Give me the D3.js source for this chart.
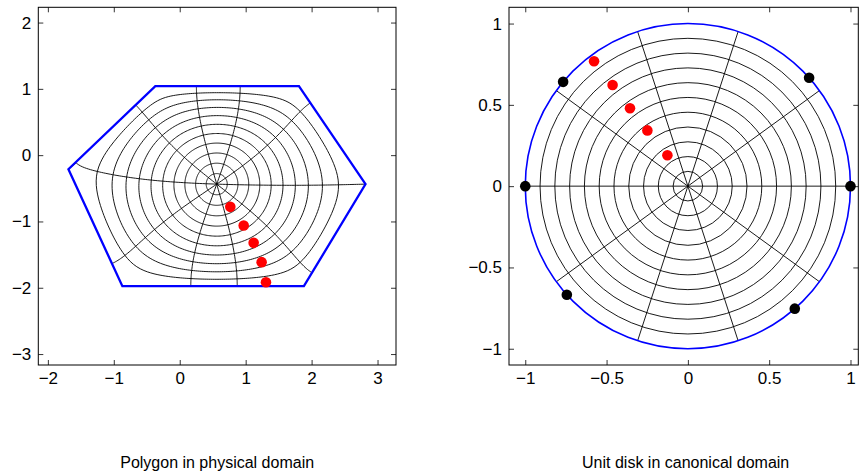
<!DOCTYPE html>
<html>
<head>
<meta charset="utf-8">
<script src="https://cdn.jsdelivr.net/npm/d3@7"></script>
<style>
  body { margin: 0; background: #fff; }
  text { font-family: Helvetica, Arial, "Liberation Sans", sans-serif; fill: #000; }
</style>
</head>
<body>
<div id="chart"></div>
<script>
// polygon (physical domain), vertices counter-clockwise
const polyX = [2.818, 1.808, -0.370, -1.688, -0.870, 1.883];
const polyY = [-0.437, 1.040, 1.040, -0.211, -1.976, -1.976];
// conformal center f(0)
const centerPt = [0.561, -0.437];
// prevertices on the unit circle (degrees), same order as the vertices
const prevertAngles = [0, 41.8, 140.1, 180, 221.9, 311.1];
// grid of the disk
const circleRadii = [1/11, 2/11, 3/11, 4/11, 5/11, 6/11, 7/11, 8/11, 9/11, 10/11];
const rayAngles = [0, 36, 72, 108, 144, 180, 216, 252, 288, 324];
// red points
const physX = [0.767, 0.970, 1.121, 1.242, 1.308];
const physY = [-0.780, -1.062, -1.323, -1.614, -1.916];
const diskX = [-0.577, -0.463, -0.356, -0.249, -0.126];
const diskY = [0.768, 0.622, 0.479, 0.343, 0.190];

const leftTicksX = [-2, -1, 0, 1, 2, 3];
const leftTicksY = [-3, -2, -1, 0, 1, 2];
const rightTicks = [-1, -0.5, 0, 0.5, 1];

const W = 859, H = 475;
const svg = d3.select("#chart").append("svg")
  .attr("width", W).attr("height", H)
  .attr("viewBox", [0, 0, W, H]);

const xL = d3.scaleLinear().domain([-2.145, 3.28]).range([38.3, 396]);
const yL = d3.scaleLinear().domain([-3.165, 2.23]).range([365, 7.3]);
const xR = d3.scaleLinear().domain([-1.1, 1.048]).range([509, 858.3]);
const yR = d3.scaleLinear().domain([-1.1, 1.1]).range([365, 7.3]);

// ---------- Schwarz-Christoffel disk map ----------
function gaussLegendre(n) {
  const x = [], w = [];
  for (let i = 1; i <= n; i++) {
    let z = Math.cos(Math.PI * (i - 0.25) / (n + 0.5)), pp = 1;
    for (let it = 0; it < 100; it++) {
      let p1 = 1, p2 = 0;
      for (let j = 1; j <= n; j++) { const p3 = p2; p2 = p1; p1 = ((2*j-1)*z*p2 - (j-1)*p3) / j; }
      pp = n * (z*p1 - p2) / (z*z - 1);
      const z1 = z; z = z1 - p1 / pp;
      if (Math.abs(z - z1) < 1e-15) break;
    }
    x.push((z + 1) / 2); w.push(1 / ((1 - z*z) * pp * pp));
  }
  return {x, w};
}
const gl8 = gaussLegendre(8), gl32 = gaussLegendre(32);

const cmul = (a, b) => [a[0]*b[0] - a[1]*b[1], a[0]*b[1] + a[1]*b[0]];

// turning angles -> exponents beta
const nV = polyX.length;
const betas = d3.range(nV).map(k => {
  const p = (k + nV - 1) % nV, q = (k + 1) % nV;
  const ax = polyX[k] - polyX[p], ay = polyY[k] - polyY[p];
  const bx = polyX[q] - polyX[k], by = polyY[q] - polyY[k];
  return -Math.atan2(ax*by - ay*bx, ax*bx + ay*by) / Math.PI;
});

function integrand(w, Z) {
  let lr = 0, li = 0;
  for (let k = 0; k < Z.length; k++) {
    const u = [1 - (w[0]*Z[k][0] + w[1]*Z[k][1]), -(w[1]*Z[k][0] - w[0]*Z[k][1])];
    lr += betas[k] * Math.log(Math.hypot(u[0], u[1]));
    li += betas[k] * Math.atan2(u[1], u[0]);
  }
  const e = Math.exp(lr);
  return [e * Math.cos(li), e * Math.sin(li)];
}

// integral 0 -> z along a straight line, graded toward the end
function integ(z, Z) {
  let sr = 0, si = 0;
  const br = [0, 0.5, 0.75, 0.875, 0.9375, 0.96875, 0.984375, 0.9921875, 0.99609375, 1];
  for (let s = 0; s < br.length - 1; s++) {
    const a = br[s], L = br[s+1] - br[s];
    gl8.x.forEach((t, i) => {
      const tt = a + L * t;
      const h = integrand([z[0]*tt, z[1]*tt], Z);
      sr += gl8.w[i] * L * h[0]; si += gl8.w[i] * L * h[1];
    });
  }
  return cmul([sr, si], z);
}

// integral 0 -> prevertex k (singular end)
function integVertex(k, Z) {
  const zk = Z[k];
  const a = [0.55 * zk[0], 0.55 * zk[1]];
  const I = integ(a, Z);
  const m = 1 / (1 + betas[k]);
  const d = [zk[0] - a[0], zk[1] - a[1]];
  let sr = 0, si = 0;
  gl32.x.forEach((s, i) => {
    const u = Math.pow(s, m);
    const h = integrand([zk[0] - d[0]*u, zk[1] - d[1]*u], Z);
    const f = gl32.w[i] * m * Math.pow(s, m - 1);
    sr += f * h[0]; si += f * h[1];
  });
  const J = cmul([sr, si], d);
  return [I[0] + J[0], I[1] + J[1]];
}

function fitC(th) {
  const Z = th.map(t => [Math.cos(t), Math.sin(t)]);
  const I = d3.range(nV).map(k => integVertex(k, Z));
  let num = [0, 0], den = 0;
  I.forEach((Ik, k) => {
    const dw = [polyX[k] - centerPt[0], polyY[k] - centerPt[1]];
    const p = cmul([Ik[0], -Ik[1]], dw);
    num[0] += p[0]; num[1] += p[1]; den += Ik[0]*Ik[0] + Ik[1]*Ik[1];
  });
  const C = [num[0] / den, num[1] / den];
  const res = [];
  I.forEach((Ik, k) => {
    const f = cmul(C, Ik);
    res.push(centerPt[0] + f[0] - polyX[k], centerPt[1] + f[1] - polyY[k]);
  });
  return {Z, C, res};
}

// refine the prevertices (first one stays at angle 0)
let theta = prevertAngles.map(a => a * Math.PI / 180);
const sse = r => d3.sum(r, v => v*v);
let fit = fitC(theta);
for (let iter = 0; iter < 25; iter++) {
  const r0 = fit.res, J = [];
  for (let j = 1; j < nV; j++) {
    const t2 = theta.slice(); t2[j] += 1e-6;
    const r1 = fitC(t2).res;
    J.push(r1.map((v, i) => (v - r0[i]) / 1e-6));
  }
  const np = nV - 1;
  const A = d3.range(np).map(a => d3.range(np).map(b => d3.sum(r0, (v, i) => J[a][i]*J[b][i]) + (a === b ? 1e-10 : 0)));
  const g = d3.range(np).map(a => -d3.sum(r0, (v, i) => J[a][i]*v));
  for (let c = 0; c < np; c++) {
    let piv = c;
    for (let r = c+1; r < np; r++) if (Math.abs(A[r][c]) > Math.abs(A[piv][c])) piv = r;
    [A[c], A[piv]] = [A[piv], A[c]]; [g[c], g[piv]] = [g[piv], g[c]];
    for (let r = c+1; r < np; r++) {
      const f = A[r][c] / A[c][c];
      for (let q = c; q < np; q++) A[r][q] -= f * A[c][q];
      g[r] -= f * g[c];
    }
  }
  const dx = new Array(np).fill(0);
  for (let c = np-1; c >= 0; c--) {
    let s = g[c];
    for (let q = c+1; q < np; q++) s -= A[c][q] * dx[q];
    dx[c] = s / A[c][c];
  }
  let step = 1, improved = false;
  while (step > 1e-3) {
    const t2 = theta.map((t, j) => j === 0 ? t : t + step * dx[j-1]);
    let ok = true;
    for (let j = 1; j < nV; j++) if (t2[j] <= t2[j-1] || t2[j] >= 2*Math.PI) ok = false;
    if (ok) {
      const f2 = fitC(t2);
      if (sse(f2.res) < sse(fit.res)) { theta = t2; fit = f2; improved = true; break; }
    }
    step /= 2;
  }
  if (!improved || sse(fit.res) < 1e-14) break;
}
const Zp = fit.Z, Cmap = fit.C;
const Ivert = d3.range(nV).map(k => integVertex(k, Zp));

function mapPt(z) {
  const f = cmul(Cmap, integ(z, Zp));
  return [centerPt[0] + f[0], centerPt[1] + f[1]];
}

// ---------- axes helpers ----------
function drawAxes(g, x, y, tx, ty, fmt) {
  const [x0, x1] = x.range(), [y0, y1] = y.range();
  const tk = 5;
  g.append("g").attr("transform", `translate(0,${y0})`)
    .call(d3.axisBottom(x).tickValues(tx).tickFormat(fmt).tickSizeInner(-tk).tickSizeOuter(0).tickPadding(7))
    .call(s => s.select(".domain").remove());
  g.append("g").attr("transform", `translate(0,${y1})`)
    .call(d3.axisTop(x).tickValues(tx).tickFormat("").tickSizeInner(-tk).tickSizeOuter(0))
    .call(s => s.select(".domain").remove());
  g.append("g").attr("transform", `translate(${x0},0)`)
    .call(d3.axisLeft(y).tickValues(ty).tickFormat(fmt).tickSizeInner(-tk).tickSizeOuter(0).tickPadding(7))
    .call(s => s.select(".domain").remove());
  g.append("g").attr("transform", `translate(${x1},0)`)
    .call(d3.axisRight(y).tickValues(ty).tickFormat("").tickSizeInner(-tk).tickSizeOuter(0))
    .call(s => s.select(".domain").remove());
  g.selectAll(".tick line").attr("stroke", "#000").attr("stroke-width", 0.8);
  g.selectAll(".tick text").attr("font-size", 17).attr("font-family", "Helvetica, Arial, 'Liberation Sans', sans-serif");
  g.append("rect").attr("x", x0).attr("y", y1).attr("width", x1 - x0).attr("height", y0 - y1)
    .attr("fill", "none").attr("stroke", "#000").attr("stroke-width", 1);
}
const fmt = d3.format("");

// ---------- left: polygon ----------
const gL = svg.append("g");
const lineL = d3.line().x(d => xL(d[0])).y(d => yL(d[1]));

circleRadii.forEach(r => {
  const pts = d3.range(241).map(i => {
    const t = 2 * Math.PI * i / 240;
    return mapPt([r * Math.cos(t), r * Math.sin(t)]);
  });
  gL.append("path").attr("d", lineL(pts)).attr("fill", "none")
    .attr("stroke", "#000").attr("stroke-width", 0.9);
});
rayAngles.forEach(a => {
  const t = a * Math.PI / 180;
  const rs = d3.range(61).map(i => 1 - Math.pow(1 - i / 60, 1.5));
  const pts = rs.slice(0, -1).map(r => r === 0 ? centerPt : mapPt([r * Math.cos(t), r * Math.sin(t)]));
  const k = prevertAngles.findIndex(p => Math.abs(p - a) < 0.5);
  if (k >= 0) {
    const f = cmul(Cmap, Ivert[k]);
    pts.push([centerPt[0] + f[0], centerPt[1] + f[1]]);
  } else {
    pts.push(mapPt([Math.cos(t), Math.sin(t)]));
  }
  gL.append("path").attr("d", lineL(pts)).attr("fill", "none")
    .attr("stroke", "#000").attr("stroke-width", 0.9);
});

gL.append("path")
  .attr("d", lineL(polyX.map((v, i) => [v, polyY[i]])) + "Z")
  .attr("fill", "none").attr("stroke", "#0000ff").attr("stroke-width", 2.3)
  .attr("stroke-linejoin", "miter");

gL.selectAll("circle.red").data(physX).join("circle")
  .attr("cx", d => xL(d)).attr("cy", (d, i) => yL(physY[i]))
  .attr("r", 5.3).attr("fill", "#ff0000");

drawAxes(gL, xL, yL, leftTicksX, leftTicksY, fmt);

// ---------- right: unit disk ----------
const gR = svg.append("g");
const cx0 = xR(0), cy0 = yR(0), unit = xR(1) - xR(0);
circleRadii.forEach(r => {
  gR.append("circle").attr("cx", cx0).attr("cy", cy0).attr("r", r * unit)
    .attr("fill", "none").attr("stroke", "#000").attr("stroke-width", 0.9);
});
rayAngles.forEach(a => {
  const t = a * Math.PI / 180;
  gR.append("line").attr("x1", cx0).attr("y1", cy0)
    .attr("x2", xR(Math.cos(t))).attr("y2", yR(Math.sin(t)))
    .attr("stroke", "#000").attr("stroke-width", 0.9);
});
gR.append("circle").attr("cx", cx0).attr("cy", cy0).attr("r", unit)
  .attr("fill", "none").attr("stroke", "#0000ff").attr("stroke-width", 1.6);

gR.selectAll("circle.pv").data(prevertAngles).join("circle")
  .attr("cx", d => xR(Math.cos(d * Math.PI / 180)))
  .attr("cy", d => yR(Math.sin(d * Math.PI / 180)))
  .attr("r", 5.3).attr("fill", "#000");
gR.selectAll("circle.red").data(diskX).join("circle")
  .attr("cx", d => xR(d)).attr("cy", (d, i) => yR(diskY[i]))
  .attr("r", 5.3).attr("fill", "#ff0000");

drawAxes(gR, xR, yR, rightTicks, rightTicks, fmt);

// ---------- labels ----------
svg.append("text").attr("x", (xL.range()[0] + xL.range()[1]) / 2).attr("y", 468)
  .attr("text-anchor", "middle").attr("font-size", 16).text("Polygon in physical domain");
svg.append("text").attr("x", (xR.range()[0] + xR.range()[1]) / 2 + 2).attr("y", 468)
  .attr("text-anchor", "middle").attr("font-size", 16).text("Unit disk in canonical domain");
</script>
</body>
</html>
